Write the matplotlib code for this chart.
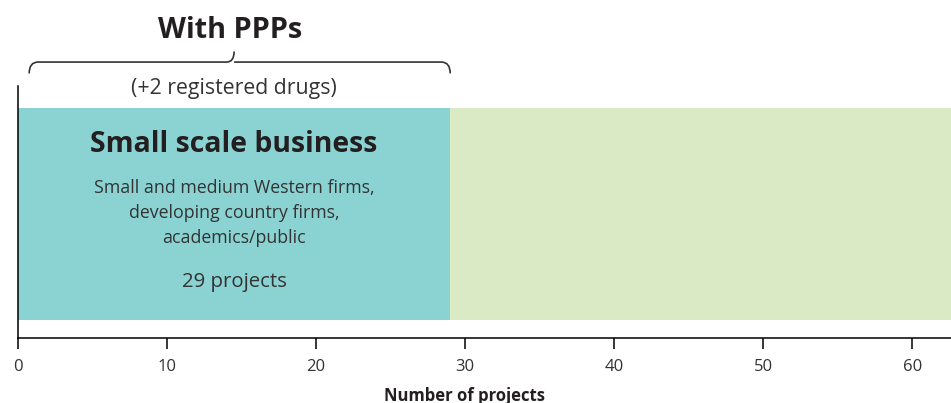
import matplotlib
matplotlib.use('Agg')
import matplotlib.pyplot as plt
import matplotlib.transforms as mtransforms
from matplotlib.path import Path
from matplotlib.patches import PathPatch

# data
segments = ['Small scale business', 'Other']
projects = [29, 35]
colors = ['#8bd3d3', '#d9eac4']
ticks = [0, 10, 20, 30, 40, 50, 60]

plt.rcParams['font.family'] = ['Open Sans', 'DejaVu Sans']
txt = '#231f20'

fig = plt.figure(figsize=(9.51, 4.03), dpi=100)
W, H = 951, 403
ax = fig.add_axes([18 / W, (H - 338) / H, 1 - 18 / W, (338 - 86) / H])

left = 0
for name, val, c in zip(segments, projects, colors):
    ax.barh(0.493, val, left=left, height=0.84, color=c, linewidth=0)
    left += val

ax.set_xlim(0, 62.6)
ax.set_ylim(0, 1)
ax.set_yticks([])
for s in ['top', 'right']:
    ax.spines[s].set_visible(False)
ax.spines['left'].set_linewidth(1.1)
ax.spines['bottom'].set_linewidth(1.1)
ax.set_xticks(ticks)
ax.tick_params(axis='x', direction='out', length=8, width=1.1, labelsize=12,
               labelcolor='#333333', pad=7)
ax.set_xlabel('Number of projects', fontsize=12, fontweight='bold', color=txt)
ax.xaxis.label.set_va('baseline')
ax.xaxis.set_label_coords((464 - 18) / 933, -0.25)

mid = projects[0] / 2
ax.text(mid, 0.738, 'Small scale business', ha='center', va='baseline',
        fontsize=20.4, fontweight='bold', color=txt)
ax.text(mid, 0.377, 'Small and medium Western firms,\ndeveloping country firms,\nacademics/public',
        ha='center', va='baseline', fontsize=12.8, color='#333333', linespacing=1.5)
ax.text(mid, 0.202, f'{projects[0]} projects', ha='center', va='baseline',
        fontsize=14.7, color='#333333')

# brace over the PPP segment
tr = mtransforms.blended_transform_factory(ax.transData, ax.transAxes)
x0, x1 = 0.75, projects[0]
yb, yl, yt = 1.05, 1.095, 1.137
verts = [(x0, yb), (x0, yl), (x0 + 0.6, yl),
         (mid - 0.5, yl), (mid, yl), (mid, yt),
         (mid, yl), (mid + 0.5, yl),
         (x1 - 0.6, yl), (x1, yl), (x1, yb)]
codes = [Path.MOVETO, Path.CURVE3, Path.CURVE3,
         Path.LINETO, Path.CURVE3, Path.CURVE3,
         Path.MOVETO, Path.CURVE3,
         Path.LINETO, Path.CURVE3, Path.CURVE3]
brace = PathPatch(Path(verts, codes), transform=tr, fill=False, lw=1.2,
                  edgecolor='#333333', clip_on=False)
ax.add_patch(brace)

ax.text(mid, 0.97, '(+2 registered drugs)', ha='center', va='baseline',
        fontsize=15.3, color='#333333', transform=tr)
ax.text(mid - 0.3, 1.19, 'With PPPs', ha='center', va='baseline',
        fontsize=20.8, fontweight='bold', color=txt, transform=tr, clip_on=False)

fig.savefig('out.png', dpi=100)
